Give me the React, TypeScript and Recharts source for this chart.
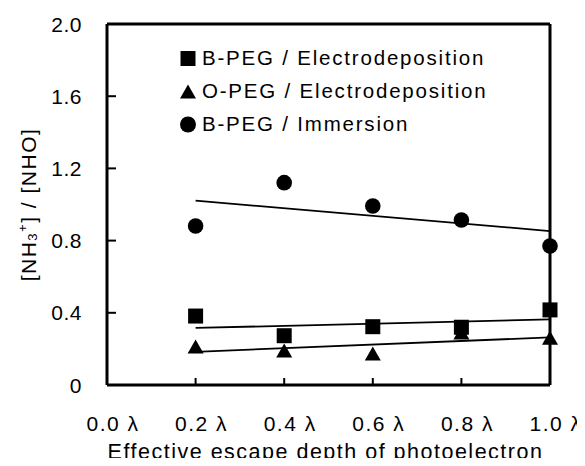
import React from 'react';
import { ComposedChart, Scatter, XAxis, YAxis, ReferenceLine, Legend, Label } from 'recharts';

// ---- data ----
const depths = [0.2, 0.4, 0.6, 0.8, 1.0];
const bpegElectro = [0.382, 0.273, 0.323, 0.320, 0.416];
const opegElectro = [0.211, 0.188, 0.172, 0.288, 0.259];
const bpegImmersion = [0.881, 1.121, 0.992, 0.914, 0.770];

const fitX = [0.2, 1.0];
const bpegElectroFit = [0.316, 0.364];
const opegElectroFit = [0.184, 0.264];
const bpegImmersionFit = [1.021, 0.853];

const seriesNames = ['B-PEG / Electrodeposition', 'O-PEG / Electrodeposition', 'B-PEG / Immersion'];

const xTicks = [0, 0.2, 0.4, 0.6, 0.8, 1.0];
const xTickLabels = ['0.0 λ', '0.2 λ', '0.4 λ', '0.6 λ', '0.8 λ', '1.0 λ'];
const yTicks = [0, 0.4, 0.8, 1.2, 1.6, 2.0];
const yTickLabels = ['0', '0.4', '0.8', '1.2', '1.6', '2.0'];

const xTitle = 'Effective escape depth of photoelectron';

const toPoints = (xs: number[], ys: number[]) => xs.map((x, i) => ({ x, y: ys[i] }));

const FONT = "'Liberation Sans', Arial, Helvetica, sans-serif";

const Square = (props: any) => {
  const { cx, cy } = props;
  if (cx == null || cy == null) return <g />;
  return <rect x={cx - 7.5} y={cy - 7.5} width={15} height={15} fill="#000" />;
};
const Triangle = (props: any) => {
  const { cx, cy } = props;
  if (cx == null || cy == null) return <g />;
  return <polygon points={`${cx},${cy - 7.5} ${cx + 8},${cy + 6.5} ${cx - 8},${cy + 6.5}`} fill="#000" />;
};
const Circle = (props: any) => {
  const { cx, cy } = props;
  if (cx == null || cy == null) return <g />;
  return <circle cx={cx} cy={cy} r={7.8} fill="#000" />;
};
const NoShape = () => <g />;

const XTick = (props: any) => {
  const { x, y, payload } = props;
  const v = payload.value;
  const i = xTicks.indexOf(v);
  return (
    <g>
      {v > 0 && v < 1 && <line x1={x} x2={x} y1={y} y2={y - 7} stroke="#000" strokeWidth={2} />}
      <text x={x + 6} y={y + 46} textAnchor="middle" fontSize={21} fontFamily={FONT} letterSpacing={1.5} fill="#000">
        {xTickLabels[i]}
      </text>
    </g>
  );
};

const YTick = (props: any) => {
  const { x, y, payload } = props;
  const v = payload.value;
  const i = yTicks.indexOf(v);
  return (
    <g>
      {v > 0 && v < 2 && <line x1={x} x2={x + 9} y1={y} y2={y} stroke="#000" strokeWidth={2} />}
      <text x={x - 25} y={y + 7.5} textAnchor="end" fontSize={21} fontFamily={FONT} letterSpacing={0.5} fill="#000">
        {yTickLabels[i]}
      </text>
    </g>
  );
};

const XTitle = (props: any) => {
  const vb = props.viewBox || { x: 107, y: 385, width: 443, height: 81 };
  return (
    <text x={vb.x + vb.width / 2 - 3} y={vb.y + 74} textAnchor="middle" fontSize={21.5} fontFamily={FONT} letterSpacing={1.5} fill="#000">
      {xTitle}
    </text>
  );
};

const YTitle = (props: any) => {
  const vb = props.viewBox || { x: 0, y: 24, width: 107, height: 361 };
  const cx = 27.5;
  const cy = vb.y + vb.height / 2;
  return (
    <text
      x={cx}
      y={cy + 8.5}
      transform={`rotate(-90, ${cx}, ${cy})`}
      textAnchor="middle"
      fontSize={21}
      fontFamily={FONT}
      letterSpacing={1.5}
      fill="#000"
    >
      <tspan>[NH</tspan>
      <tspan fontSize={13} dy={1}>3</tspan>
      <tspan fontSize={13} dy={-10}>+</tspan>
      <tspan fontSize={21} dy={9}>] / [NHO]</tspan>
    </text>
  );
};

const LegendContent = (props: any) => {
  const items = (props.payload || [])
    .filter((p: any) => p.type !== 'none' && seriesNames.indexOf(p.value) >= 0)
    .slice()
    .sort((a: any, b: any) => seriesNames.indexOf(a.value) - seriesNames.indexOf(b.value));
  const marker = (type: string, cx: number, cy: number) => {
    if (type === 'square') return <rect x={cx - 7.5} y={cy - 7.5} width={15} height={15} fill="#000" />;
    if (type === 'triangle') return <polygon points={`${cx},${cy - 7} ${cx + 8},${cy + 7} ${cx - 8},${cy + 7}`} fill="#000" />;
    return <circle cx={cx} cy={cy} r={8} fill="#000" />;
  };
  return (
    <svg width={340} height={100} style={{ display: 'block' }}>
      {items.map((it: any, k: number) => (
        <g key={k}>
          {marker(it.type, 13, 18.5 + k * 33)}
          <text x={27} y={25 + k * 33} fontSize={20.5} fontFamily={FONT} letterSpacing={1.8} fill="#000">
            {it.value}
          </text>
        </g>
      ))}
    </svg>
  );
};

export default function App() {
  return (
    <div style={{ margin: -8, width: 585, height: 466, background: '#fff' }}>
      <ComposedChart width={585} height={466} margin={{ top: 24, right: 35, bottom: 0, left: 0 }}>
        <XAxis
          type="number"
          dataKey="x"
          domain={[0, 1]}
          ticks={xTicks}
          interval={0}
          height={81}
          tickLine={false}
          tickSize={0}
          tickMargin={0}
          axisLine={{ stroke: '#000', strokeWidth: 3 }}
          tick={<XTick />}
          label={<Label content={<XTitle />} />}
        />
        <YAxis
          type="number"
          dataKey="y"
          domain={[0, 2]}
          ticks={yTicks}
          interval={0}
          width={107}
          tickLine={false}
          tickSize={0}
          tickMargin={0}
          axisLine={{ stroke: '#000', strokeWidth: 3 }}
          tick={<YTick />}
          label={<Label content={<YTitle />} />}
        />
        <ReferenceLine y={2} stroke="#000" strokeWidth={3} ifOverflow="visible" />
        <ReferenceLine x={1} stroke="#000" strokeWidth={3} ifOverflow="visible" />

        <Scatter data={toPoints(fitX, bpegElectroFit)} line={{ stroke: '#000', strokeWidth: 1.8 }} shape={<NoShape />} legendType="none" isAnimationActive={false} />
        <Scatter data={toPoints(fitX, opegElectroFit)} line={{ stroke: '#000', strokeWidth: 1.8 }} shape={<NoShape />} legendType="none" isAnimationActive={false} />
        <Scatter data={toPoints(fitX, bpegImmersionFit)} line={{ stroke: '#000', strokeWidth: 1.8 }} shape={<NoShape />} legendType="none" isAnimationActive={false} />

        <Scatter name={seriesNames[0]} data={toPoints(depths, bpegElectro)} shape={<Square />} legendType="square" fill="#000" isAnimationActive={false} />
        <Scatter name={seriesNames[1]} data={toPoints(depths, opegElectro)} shape={<Triangle />} legendType="triangle" fill="#000" isAnimationActive={false} />
        <Scatter name={seriesNames[2]} data={toPoints(depths, bpegImmersion)} shape={<Circle />} legendType="circle" fill="#000" isAnimationActive={false} />

        <Legend
          layout="vertical"
          align="center"
          verticalAlign="middle"
          content={<LegendContent />}
          wrapperStyle={{ position: 'absolute', top: 40, left: 175, width: 340, height: 100 }}
        />
      </ComposedChart>
    </div>
  );
}
